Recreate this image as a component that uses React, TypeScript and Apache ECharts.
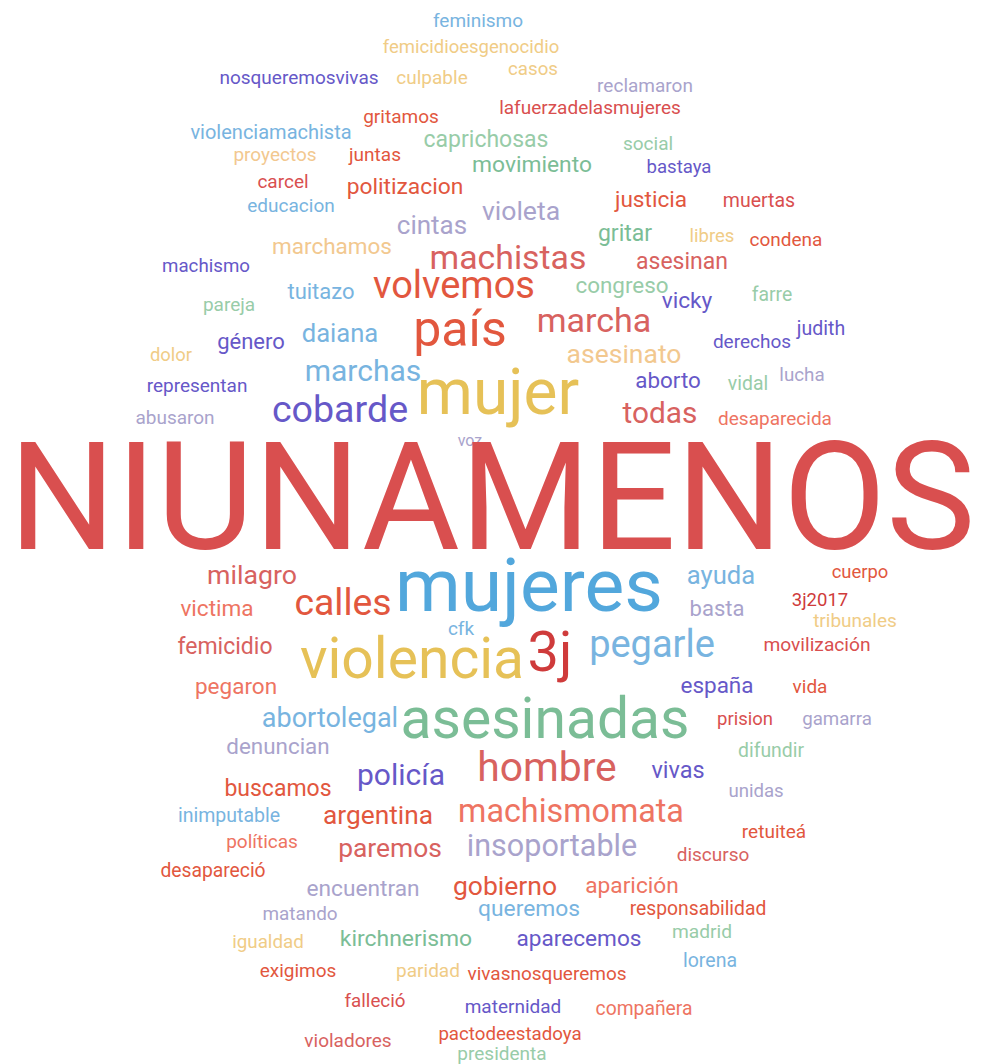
import React, { useEffect, useRef } from "react";
import * as echarts from "echarts";

// Words of the cloud and their weights (rendered font size in px)
const words: string[] = [
  "feminismo", "femicidioesgenocidio", "nosqueremosvivas", "culpable", "casos",
  "reclamaron", "gritamos", "lafuerzadelasmujeres", "violenciamachista", "caprichosas",
  "social", "proyectos", "juntas", "movimiento", "bastaya",
  "carcel", "politizacion", "educacion", "justicia", "muertas",
  "cintas", "violeta", "marchamos", "gritar", "libres",
  "condena", "machismo", "machistas", "asesinan", "tuitazo",
  "volvemos", "congreso", "farre", "pareja", "vicky",
  "país", "marcha", "judith", "dolor", "género",
  "daiana", "derechos", "asesinato", "marchas", "representan",
  "mujer", "aborto", "vidal", "lucha", "abusaron",
  "cobarde", "todas", "desaparecida", "voz", "NIUNAMENOS",
  "milagro", "mujeres", "ayuda", "cuerpo", "3j2017",
  "victima", "calles", "basta", "tribunales", "cfk",
  "femicidio", "violencia", "3j", "pegarle", "movilización",
  "pegaron", "españa", "vida", "abortolegal", "asesinadas",
  "prision", "gamarra", "denuncian", "difundir", "policía",
  "hombre", "vivas", "buscamos", "unidas", "inimputable",
  "argentina", "machismomata", "políticas", "retuiteá", "paremos",
  "insoportable", "discurso", "desapareció", "encuentran", "gobierno",
  "aparición", "matando", "queremos", "responsabilidad", "igualdad",
  "kirchnerismo", "aparecemos", "madrid", "exigimos", "paridad",
  "vivasnosqueremos", "lorena", "falleció", "maternidad", "compañera",
  "violadores", "pactodeestadoya", "presidenta",
];

const weights: number[] = [
  19, 18.5, 19, 19, 18.7,
  19, 19, 19, 20, 23,
  19, 19, 19, 22.8, 18.6,
  19, 22.8, 19, 22.6, 19.5,
  26, 26.6, 22.5, 23, 18.5,
  19, 18.7, 33.8, 23, 22,
  38, 22.4, 19.4, 19, 22.7,
  50, 34, 19.5, 18.4, 22,
  25.6, 19, 26.5, 30, 19,
  64, 22.4, 19.4, 18.8, 19,
  37.6, 29.8, 19, 16, 150,
  26.7, 75, 25.6, 18.4, 18.5,
  22.6, 37.4, 22, 19, 19,
  23, 57, 56, 38, 19.2,
  22.5, 22.5, 19, 27, 57,
  18.5, 18.7, 22.4, 19.4, 30,
  40.8, 23.5, 23, 18.6, 19.5,
  26.3, 32.3, 19, 19, 26.4,
  30.5, 19, 19.3, 22.7, 26.5,
  22.7, 18.9, 22.8, 19.3, 18.8,
  22.9, 22.6, 19.2, 19, 19,
  19, 19.5, 18.8, 19, 19.3,
  19, 18.7, 19,
];

// Placement of each word (centre, in page pixels) and its colour key
const placeX: number[] = [
  478, 471, 299, 432, 533,
  645, 401, 590, 271, 486,
  648, 275, 375, 532, 679,
  283, 405, 291, 651, 759,
  432, 521, 332, 625, 712,
  786, 206, 508, 682, 321,
  454, 622, 772, 229, 687,
  460, 594, 821, 171, 251,
  340, 752, 624, 363, 197,
  498, 668, 748, 802, 175,
  340, 660, 775, 470, 492,
  252, 529, 721, 860, 820,
  217, 343, 717, 855, 461,
  225, 412, 550, 652, 817,
  236, 717, 810, 330, 545,
  745, 837, 278, 771, 401,
  547, 678, 278, 756, 229,
  378, 571, 262, 774, 390,
  552, 713, 213, 363, 505,
  632, 300, 529, 698, 268,
  406, 579, 702, 298, 428,
  547, 710, 375, 513, 644,
  348, 510, 502,
];
const placeY: number[] = [
  22, 48, 79, 79, 70,
  87, 118, 109, 133, 141,
  145, 156, 156, 166, 168,
  183, 188, 207, 201, 202,
  227, 212, 248, 235, 237,
  241, 267, 260, 263, 293,
  288, 287, 296, 306, 302,
  332, 322, 330, 356, 343,
  335, 343, 355, 373, 387,
  397, 382, 385, 376, 419,
  412, 415, 420, 442, 498,
  577, 590, 577, 573, 600,
  610, 605, 610, 622, 630,
  648, 662, 652, 647, 646,
  688, 687, 688, 720, 722,
  720, 720, 748, 752, 777,
  770, 772, 790, 792, 817,
  817, 813, 843, 833, 850,
  848, 856, 872, 890, 887,
  887, 915, 910, 910, 943,
  940, 940, 933, 972, 972,
  975, 962, 1002, 1008, 1010,
  1042, 1035, 1055,
];
const colorKey: string[] = [
  "lblue", "lyellow", "purple", "lyellow", "lyellow",
  "lavender", "orange", "red", "lblue", "lgreen",
  "lgreen", "lorange", "orange", "green", "purple",
  "red", "orange", "lblue", "orange", "red",
  "lavender", "lavender", "lorange", "green", "lyellow",
  "orange", "purple", "rose", "rose", "lblue",
  "orange", "lgreen", "lgreen", "lgreen", "purple",
  "orange", "rose", "purple", "lyellow", "purple",
  "lblue", "purple", "lorange", "lblue", "purple",
  "yellow", "purple", "lgreen", "lavender", "lavender",
  "purple", "rose", "salmon", "lavender", "red",
  "rose", "blue", "lblue", "orange", "dred",
  "salmon", "orange", "lavender", "lyellow", "lblue",
  "rose", "yellow", "dred", "lblue", "red",
  "salmon", "purple", "orange", "lblue", "green",
  "red", "lavender", "lavender", "lgreen", "purple",
  "rose", "purple", "orange", "lavender", "lblue",
  "orange", "salmon", "salmon", "orange", "rose",
  "lavender", "rose", "orange", "lavender", "orange",
  "salmon", "lavender", "lblue", "orange", "lyellow",
  "green", "purple", "lgreen", "orange", "lyellow",
  "orange", "lblue", "red", "purple", "salmon",
  "rose", "orange", "lgreen",
];

const palette: Record<string, string> = {
  red: "#d94f4f",
  dred: "#cf3b3b",
  yellow: "#e6c157",
  blue: "#52a7dc",
  green: "#7bbd96",
  purple: "#6658c8",
  lavender: "#a9a3cc",
  orange: "#e2573e",
  rose: "#d8625f",
  salmon: "#ee7462",
  lorange: "#f2c88f",
  lyellow: "#f0cc86",
  lblue: "#78b4e0",
  lgreen: "#98cca8",
};

export default function App() {
  const ref = useRef<HTMLDivElement>(null);
  useEffect(() => {
    if (!ref.current) return;
    const chart = echarts.init(ref.current, undefined, { renderer: "svg" });
    // draw "voz" underneath the big word
    const order = words
      .map((_, i) => i)
      .sort((a, b) => (words[a] === "NIUNAMENOS" ? 1 : 0) - (words[b] === "NIUNAMENOS" ? 1 : 0));
    const data = order.map((i) => {
      const fs = weights[i];
      const isCaps = words[i] === words[i].toUpperCase() && /[A-Z]/.test(words[i]);
      const isDigit = /^[0-9]/.test(words[i]);
      const shift = isCaps || isDigit ? 0 : fs * 0.07;
      return {
        value: [placeX[i], placeY[i] - shift],
        name: words[i],
        label: {
          show: true,
          position: "inside",
          formatter: words[i],
          fontSize: fs,
          fontFamily: "Roboto",
          color: palette[colorKey[i]],
          align: "center",
          verticalAlign: "middle",
        },
      };
    });
    chart.setOption({
      animation: false,
      backgroundColor: "#ffffff",
      grid: { left: 0, right: 0, top: 0, bottom: 0 },
      xAxis: { type: "value", min: 0, max: 993, show: false },
      yAxis: { type: "value", min: 0, max: 1064, inverse: true, show: false },
      series: [
        {
          type: "scatter",
          symbolSize: 0,
          silent: true,
          itemStyle: { color: "rgba(0,0,0,0)", opacity: 1 },
          labelLayout: { hideOverlap: false },
          data,
        },
      ],
    });
    return () => chart.dispose();
  }, []);
  return (
    <div
      ref={ref}
      style={{ position: "fixed", left: 0, top: 0, width: 993, height: 1064, background: "#fff" }}
    />
  );
}
